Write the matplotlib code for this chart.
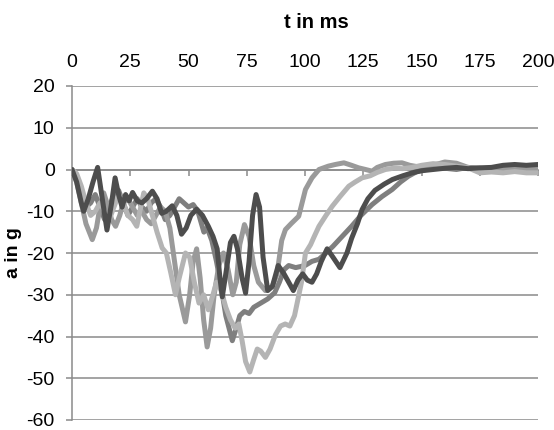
import matplotlib
matplotlib.use("Agg")
import matplotlib.pyplot as plt

plt.rcParams["font.family"] = ["Liberation Sans", "DejaVu Sans"]
plt.rcParams["axes.unicode_minus"] = False

# t in ms / a in g, one pair of lists per curve
t_dark = [0, 2, 4, 5, 7, 9, 11, 13, 15, 17, 18.5, 20, 21.5, 23, 24.5, 26, 28, 30, 32, 34.5,
          36.5, 38.5, 40.5, 43, 45, 47, 49, 51, 53.5, 56, 58.5, 60.5, 62.3, 63.5, 64.5, 66,
          68, 69.5, 71, 73, 74.5, 76, 77.5, 79, 80.5, 82, 84, 86, 88.5, 91, 93, 95, 97, 99,
          101, 103, 105, 107, 109.5, 112, 115, 118, 120, 122.5, 124.5, 127, 130, 134, 137.5,
          142, 146, 150, 155, 160, 165, 170, 175, 180, 185, 190, 195, 200]
a_dark = [0, -3, -8, -10, -7, -3, 0.5, -7, -14.5, -8, -2, -6, -9, -6, -7.5, -5.5, -7.5, -8, -7, -5.2,
          -7, -10.5, -10, -8.7, -11, -15.5, -14, -11, -9.5, -11, -13.6, -16, -19, -26, -30.5, -25,
          -17.5, -16, -19, -26, -29.6, -22, -11, -6, -9, -21, -29, -28, -23, -25, -27, -29, -26.5, -25,
          -26.5, -27, -25, -22, -19, -21, -23.5, -20, -16.5, -13, -9.6, -7, -5, -3.5, -2.4,
          -1.5, -0.8, -0.3, 0, 0.3, 0.5, 0.2, 0.4, 0.5, 1, 1.2, 1, 1.2]

t_mid_dark = [0, 2, 4, 6, 8, 10, 12, 14, 16, 18, 20, 22, 24, 26, 28, 30, 32, 34, 36, 38, 40,
              42, 44, 46, 48, 50, 52, 54, 56.6, 58, 60, 62, 64, 66, 68.8, 70.5, 72, 74, 76, 78,
              81, 84, 87, 89, 91, 93, 96, 100, 103, 106, 109, 112, 116, 120, 124, 128.8, 133,
              137.4, 141, 144.4, 148, 152, 156, 160, 165, 170, 175, 180, 185, 190, 195, 200]
a_mid_dark = [0, -2, -6, -9, -8, -6, -9, -12, -9, -6, -5, -8, -11, -9, -7, -9, -10, -8, -7, -9, -12,
              -11, -9, -7, -8, -9, -8.4, -10, -15, -14, -17, -22, -28, -35, -41, -38, -35, -34, -34.5, -33,
              -32, -31, -29.5, -27, -24, -23, -23.5, -23, -22, -21.5, -20, -18.4, -16, -13.6, -11, -8.4, -6.5,
              -4.8, -3, -1.6, -0.5, 0, 0.5, 0.3, 0, 0.5, 0.3, 0, 0.5, 0.3, 0, 0.3]

t_mid = [0, 2, 4, 6, 8.7, 10.5, 12, 13.6, 15, 17, 18.7, 20.5, 22, 24, 26, 28, 30, 32, 34, 36, 38,
         40, 42, 44, 46, 48.7, 50.5, 52, 53.5, 55, 56.5, 58, 59.5, 61, 63, 65, 67, 69, 70.5, 72,
         74, 76, 78, 80, 83, 86, 88, 90, 91.6, 94, 97.3, 100.2, 103, 106, 110, 113, 116.7, 120,
         123, 126, 128.8, 131, 134.5, 138, 141.6, 145, 150, 155, 160, 165, 170, 175, 180, 185,
         190, 195, 200]
a_mid = [0, -3, -8, -13, -16.8, -14, -9, -5.6, -8, -12, -13.6, -11, -8, -7, -9, -11, -10, -12, -13, -11, -9,
         -10, -14, -22, -30, -36.5, -30, -22, -19, -26, -36, -42.5, -38, -30, -23, -20, -24, -30, -27, -18,
         -13.2, -16, -23, -27, -29, -28, -25, -17, -14.4, -13, -11.2, -4.8, -2, 0, 0.8, 1.2, 1.6, 1,
         0.4, 0, -0.4, 0.5, 1.2, 1.5, 1.6, 1, 0.5, 1, 1.8, 1.5, 0.5, 0, -0.3, 0,
         0.3, 0, 0]

t_light = [0, 2, 4, 6, 8, 10, 12, 14, 16, 18, 20, 22, 24, 26, 27.8, 29.5, 30.8, 32.5, 34.5, 36.5,
           38.7, 40.5, 42.5, 44.4, 46, 48.7, 50.5, 52.5, 54.5, 56.5, 58.5, 60.5, 62, 64, 66, 68,
           70, 71.6, 73, 74.5, 76.3, 78, 79.5, 81, 83, 85, 87.3, 89.5, 91.5, 93.5, 95.5, 97, 98.5,
           100.2, 102.4, 104, 106, 109, 111.7, 115, 118.8, 121.5, 124.5, 128, 131, 134.5, 138,
           142, 146, 150, 155, 160, 165, 170, 175, 180, 185, 190, 195, 200]
a_light = [0, -1, -4, -8, -11, -10, -8, -10, -12, -9, -6, -8, -11, -12, -13.6, -9, -5.6, -7, -11, -15,
           -18.8, -20, -25, -30, -26, -20, -21, -27, -32, -30, -33.6, -30, -27, -29, -33, -36,
           -38, -37, -41, -46, -48.5, -45.5, -43, -43.5, -45, -43, -39.6, -37.5, -37, -37.5, -35, -31, -27,
           -20, -18, -16, -13.6, -11, -8.8, -6.5, -4, -3, -2, -1.5, -0.7, 0, 0.3,
           0.2, 0.5, 1, 1.4, 1.2, 0.8, 0.4, -0.8, -0.6, -0.8, -0.5, -0.8, -0.8]

x_ticks = [0, 25, 50, 75, 100, 125, 150, 175, 200]
y_ticks = [20, 10, 0, -10, -20, -30, -40, -50, -60]

GRID = "#8a8a8a"

fig = plt.figure(figsize=(5.54, 4.30), dpi=100)
ax = fig.add_axes([72 / 554, 1 - 420 / 430, 466 / 554, 334 / 430])

curves = [
    (t_mid_dark, a_mid_dark, "#7f7f7f"),
    (t_mid, a_mid, "#9a9a9a"),
    (t_light, a_light, "#b4b4b4"),
    (t_dark, a_dark, "#4d4d4d"),
]
for t, a, col in curves:
    ax.plot(t, a, color=col, lw=3.6, solid_joinstyle="round", solid_capstyle="round", zorder=3)

ax.set_xlim(0, 200)
ax.set_ylim(-60, 20)
ax.set_xticks(x_ticks)
ax.set_yticks(y_ticks)

ax.yaxis.grid(True, color=GRID, lw=1.1)
ax.set_axisbelow(True)

for side in ["top", "right"]:
    ax.spines[side].set_visible(False)
ax.spines["bottom"].set_position(("data", 0))
for side in ["bottom", "left"]:
    ax.spines[side].set_color(GRID)
    ax.spines[side].set_linewidth(1.1)

ax.tick_params(axis="x", bottom=True, top=False, labelbottom=False, labeltop=True,
               direction="out", length=4, width=1.1, color=GRID, pad=6.5, labelsize=14)
ax.tick_params(axis="y", direction="out", length=4.5, width=1.1, color=GRID, pad=8, labelsize=14)

ax.set_ylabel("a in g", fontweight="bold", fontsize=14)
ax.yaxis.set_label_coords(-0.107, 0.5)
fig.text(316 / 554, 1 - 22 / 430, "t in ms", ha="center", va="center",
         fontweight="bold", fontsize=14.5)

fig.savefig("out.png", dpi=100)
